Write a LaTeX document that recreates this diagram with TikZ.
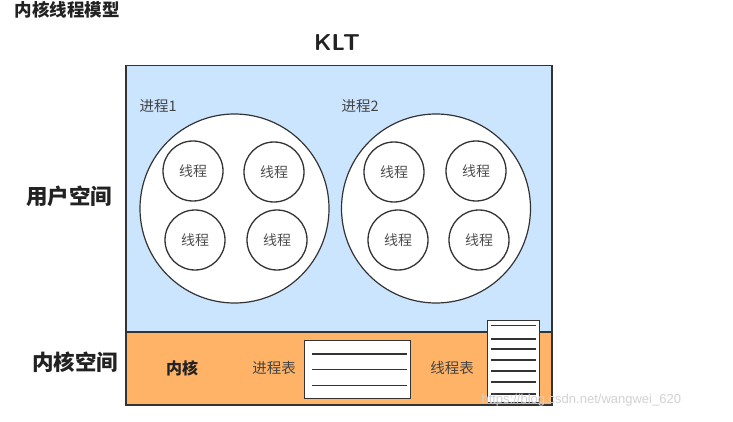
\documentclass[tikz,border=0pt]{standalone}
\usepackage{fontspec}
\setmainfont{Noto Sans CJK SC}
\newfontfamily\cjk{Noto Sans CJK SC}
\newfontfamily\wmfont{Liberation Sans}
\definecolor{userblue}{HTML}{CCE5FF}
\definecolor{kernorange}{HTML}{FFB366}
\definecolor{edge}{HTML}{333333}
\definecolor{txt}{HTML}{222222}
\begin{document}
\begin{tikzpicture}[x=1pt,y=-1pt,
  region/.style={draw=edge,line width=1.5pt},
  proc/.style={circle,draw=edge,fill=white,line width=1.2pt,minimum size=189pt,inner sep=0pt},
  thread/.style={circle,draw=edge,fill=white,line width=1.3pt,minimum size=60pt,inner sep=0pt,font=\cjk\fontsize{14}{15}\selectfont,text=txt!80},
  lbl/.style={font=\cjk\fontsize{14.5}{16}\selectfont,text=txt!85},
  bigl/.style={font=\cjk\bfseries\fontsize{21.5}{23}\selectfont,text=txt},
  tbl/.style={draw=edge,fill=white,line width=1.1pt,inner sep=0pt},
  tline/.style={draw=edge,line width=1.2pt}
]
\useasboundingbox (0,0) rectangle (733,422);
\fill[white] (0,0) rectangle (733,422);
% title
\node[anchor=west,font=\cjk\bfseries\fontsize{17.5}{19}\selectfont,text=txt] (title) at (11,10) {内核线程模型};
\node[font=\sffamily\bfseries\fontsize{23}{25}\selectfont,text=txt] (klt) at (337,43) {KLT};
% regions
\node[region,fill=userblue,minimum width=426pt,minimum height=266pt,anchor=north west,inner sep=0pt] (user) at (125,65) {};
\node[region,fill=kernorange,minimum width=426pt,minimum height=73pt,anchor=north west,inner sep=0pt] (kern) at (125,331) {};
\node[bigl] (userlbl) at (69,196) {用户空间};
\node[bigl] (kernlbl) at (75,362) {内核空间};
% processes
\node[lbl,anchor=west] (p1lbl) at (136,106) {进程1};
\node[lbl,anchor=west] (p2lbl) at (338,106) {进程2};
\node[proc] (p1) at (234.5,208.5) {};
\node[proc] (p2) at (436,208.5) {};
\node[thread] (t11) at (193,171) {线程};
\node[thread] (t12) at (274,172) {线程};
\node[thread] (t13) at (195,240) {线程};
\node[thread] (t14) at (277,240) {线程};
\node[thread] (t21) at (394,172) {线程};
\node[thread] (t22) at (476,171) {线程};
\node[thread] (t23) at (398,240) {线程};
\node[thread] (t24) at (479,240) {线程};
% kernel contents
\node[font=\cjk\bfseries\fontsize{16}{18}\selectfont,text=txt] (kernel) at (182,368) {内核};
\node[lbl] (ptlbl) at (274,368) {进程表};
\node[lbl] (ttlbl) at (452,368) {线程表};
\node[tbl,minimum width=106pt,minimum height=58pt,anchor=north west] (ptab) at (304,340) {};
\draw[tline] ([xshift=8pt,yshift=-14pt]ptab.north west) -- ([xshift=-4pt,yshift=-14pt]ptab.north east);
\draw[tline] ([xshift=8pt]ptab.west) -- ([xshift=-4pt]ptab.east);
\draw[tline] ([xshift=8pt,yshift=14pt]ptab.south west) -- ([xshift=-4pt,yshift=14pt]ptab.south east);
\node[tbl,minimum width=52pt,minimum height=82pt,anchor=north west] (ttab) at (487,320) {};
\foreach \yy in {5.5,19,29,40,51,62,74}{
  \draw[tline] ([xshift=4pt,yshift=-\yy pt]ttab.north west) -- ([xshift=-4pt,yshift=-\yy pt]ttab.north east);
}
% watermark
\node[anchor=west,font=\wmfont\fontsize{13}{14}\selectfont,text=gray!35] (wm) at (478,400) {https://blog.csdn.net/wangwei\_620};
\end{tikzpicture}
\end{document}
